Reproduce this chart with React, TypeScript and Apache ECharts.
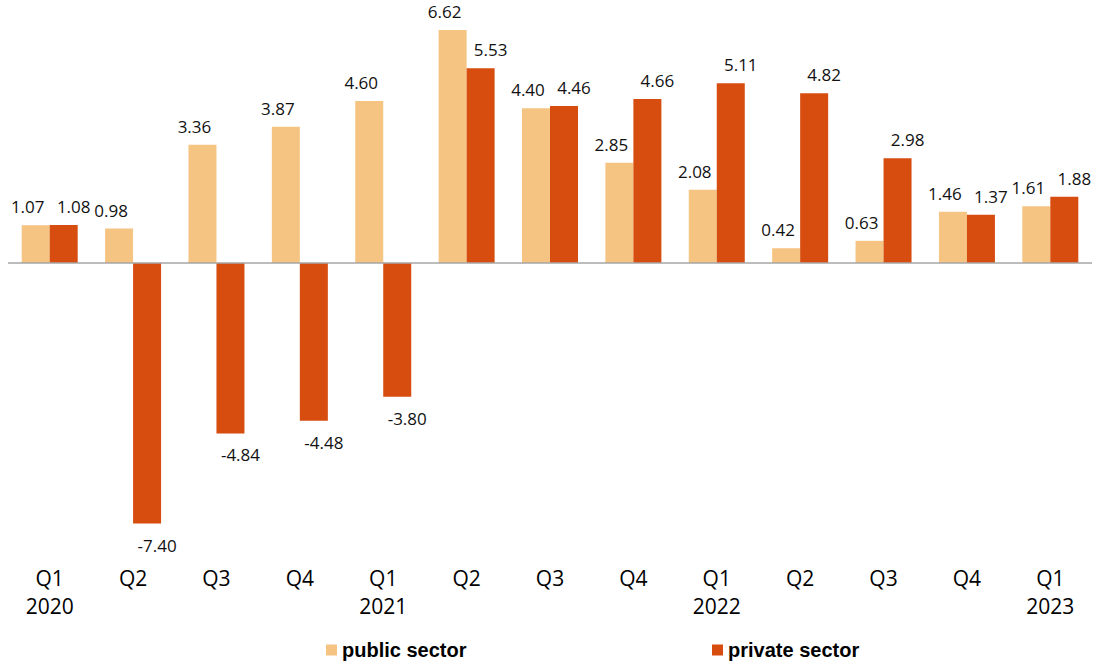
import React, { useEffect, useRef } from "react";
import * as echarts from "echarts";

const categories = ["Q1\n2020", "Q2", "Q3", "Q4", "Q1\n2021", "Q2", "Q3", "Q4", "Q1\n2022", "Q2", "Q3", "Q4", "Q1\n2023"];
const publicSector = [1.07, 0.98, 3.36, 3.87, 4.6, 6.62, 4.4, 2.85, 2.08, 0.42, 0.63, 1.46, 1.61];
const privateSector = [1.08, -7.4, -4.84, -4.48, -3.8, 5.53, 4.46, 4.66, 5.11, 4.82, 2.98, 1.37, 1.88];

const PUBLIC_COLOR = "#F5C482";
const PRIVATE_COLOR = "#D64D0F";

export default function App() {
  const ref = useRef<HTMLDivElement>(null);
  useEffect(() => {
    if (!ref.current) return;
    const chart = echarts.init(ref.current, null, { renderer: "svg" });
    const mkData = (arr: number[], dx: number) =>
      arr.map((v) => ({
        value: v,
        label: {
          position: v >= 0 ? "top" : "bottom",
          distance: v >= 0 ? 10 : 13,
          offset: [dx, 0],
        },
      }));
    const labelBase = {
      show: true,
      fontSize: 17,
      color: "#111",
      fontFamily: "Open Sans",
      formatter: (p: any) => Number(p.value).toFixed(2),
    };
    const legendText = { fontFamily: "Liberation Sans", fontWeight: "bold", fontSize: 20, color: "#000" };
    chart.setOption({
      animation: false,
      grid: { left: 8, right: 10, top: 30, bottom: 139.5, containLabel: false },
      legend: [
        {
          data: ["public sector"],
          left: 321,
          top: 635,
          itemWidth: 11,
          itemHeight: 11,
          textStyle: legendText,
          icon: "rect",
        },
        {
          data: ["private sector"],
          left: 707,
          top: 635,
          itemWidth: 11,
          itemHeight: 11,
          textStyle: legendText,
          icon: "rect",
        },
      ],
      xAxis: {
        type: "category",
        data: categories,
        axisLine: { show: false },
        axisTick: { show: false },
        axisLabel: {
          margin: 40,
          fontSize: 21,
          lineHeight: 28,
          color: "#000",
          fontFamily: "Open Sans",
          interval: 0,
        },
      },
      yAxis: {
        type: "value",
        min: -7.4,
        max: 6.62,
        show: false,
        splitLine: { show: false },
      },
      series: [
        {
          name: "public sector",
          type: "bar",
          data: mkData(publicSector, -8),
          barWidth: 28,
          barGap: "0%",
          itemStyle: { color: PUBLIC_COLOR },
          label: labelBase,
          markLine: {
            silent: true,
            symbol: "none",
            label: { show: false },
            lineStyle: { color: "#A6A6A6", width: 1.5, type: "solid" },
            data: [{ yAxis: 0 }],
          },
        },
        {
          name: "private sector",
          type: "bar",
          data: mkData(privateSector, 10),
          barWidth: 28,
          itemStyle: { color: PRIVATE_COLOR },
          label: labelBase,
        },
      ],
    });
    return () => chart.dispose();
  }, []);
  return <div ref={ref} style={{ width: 1102, height: 663, position: "absolute", left: 0, top: 0 }} />;
}
